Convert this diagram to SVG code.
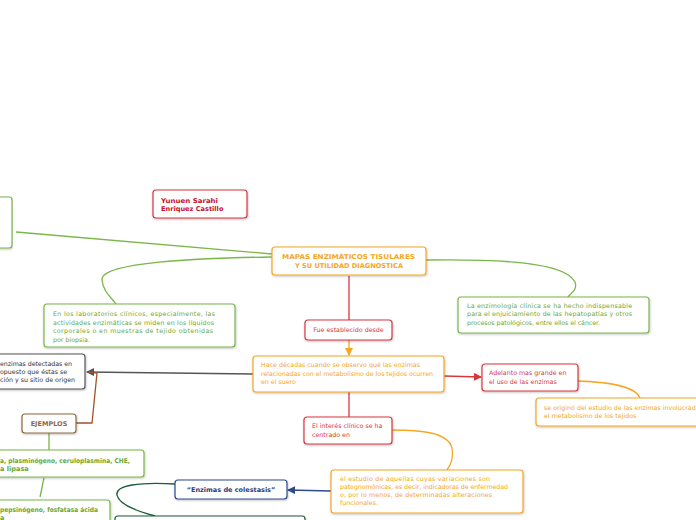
<svg xmlns="http://www.w3.org/2000/svg" width="696" height="520" viewBox="0 0 696 520">
<defs>
<filter id="sh" x="-5%" y="-10%" width="110%" height="130%"><feDropShadow dx="0.5" dy="1" stdDeviation="0.8" flood-color="#000" flood-opacity="0.25"/></filter>
<marker id="aGray" markerWidth="8" markerHeight="8" refX="7" refY="4" orient="auto" markerUnits="userSpaceOnUse"><path d="M0,0 L8,4 L0,8 Z" fill="#555"/></marker>
<marker id="aRed" markerWidth="8" markerHeight="8" refX="7" refY="4" orient="auto" markerUnits="userSpaceOnUse"><path d="M0,0 L8,4 L0,8 Z" fill="#d9363e"/></marker>
<marker id="aOr" markerWidth="8" markerHeight="8" refX="7" refY="4" orient="auto" markerUnits="userSpaceOnUse"><path d="M0,0 L8,4 L0,8 Z" fill="#f5a623"/></marker>
<marker id="aBlue" markerWidth="8" markerHeight="8" refX="7" refY="4" orient="auto" markerUnits="userSpaceOnUse"><path d="M0,0 L8,4 L0,8 Z" fill="#2c4a8c"/></marker>
</defs>
<style>
rect{fill:#fff;stroke-width:1.2;filter:url(#sh)}
.g rect{stroke:#7ab648}.o rect{stroke:#f5a623}.r rect{stroke:#d9363e}.d rect{stroke:#555}.b rect{stroke:#8b6a3e}.n rect{stroke:#2c4a8c}.dg rect{stroke:#1b5e3b}
text{font-family:"DejaVu Sans",Verdana,sans-serif;font-size:6.3px}
.g text{fill:#6aa834}.o text{fill:#f5a623}.r text{fill:#d9363e}.d text{fill:#333}
.bt{font-weight:bold;font-size:6.6px}
.r .bt{fill:#c8102e}
.b text{fill:#8b6a3e;font-weight:bold;font-size:6.5px}.n text{fill:#2c3e7a;font-weight:bold;font-size:6.5px}
#connectors path{fill:none;stroke-width:1.3}
</style>
<g id="connectors">
<path d="M16,232 L272,254" stroke="#7ab648"/>
<path d="M272,257 C200,258 100,262 102,280 C103,292 112,298 116,304" stroke="#7ab648"/>
<path d="M426,260 C500,259 565,262 575,282 C578,290 570,294 568,297" stroke="#7ab648"/>
<path d="M349,276 L349,320" stroke="#d9363e"/>
<path d="M349,340 L349,355" stroke="#f5a623" marker-end="url(#aOr)"/>
<path d="M253,374 L87,372" stroke="#555" marker-end="url(#aGray)"/>
<path d="M76,423 L92,423 L97,373 L89,372" stroke="#a0522d"/>
<path d="M444,376 L481,377" stroke="#d9363e" marker-end="url(#aRed)"/>
<path d="M578,381 C605,382 635,385 640,398" stroke="#f5a623"/>
<path d="M349,392 L349,417" stroke="#d9363e"/>
<path d="M392,430 C420,430 448,432 452,448 C454,460 450,466 447,470" stroke="#f5a623"/>
<path d="M331,491 L288,490" stroke="#2c4a8c" marker-end="url(#aBlue)"/>
<path d="M49,433 L49,450" stroke="#7ab648"/>
<path d="M44,478 L40,497" stroke="#7ab648"/>
<path d="M175,484 C140,482 115,485 117,495 C119,505 140,512 155,516" stroke="#1b5e3b"/>
</g>
<g id="n_topleft" class="g"><rect x="-6" y="197" width="18" height="51" rx="3"/></g>
<g id="n_autor" class="r"><rect x="153" y="190" width="94" height="28" rx="3"/><text class="bt" x="161" y="203" textLength="57" lengthAdjust="spacingAndGlyphs">Yunuen Sarahi</text><text class="bt" x="161" y="211">Enriquez Castillo</text></g>
<g id="n_central" class="o"><rect x="272" y="247" width="154" height="28" rx="3"/><text class="bt" x="282" y="259" textLength="133" lengthAdjust="spacingAndGlyphs">MAPAS ENZIMÁTICOS TISULARES</text><text class="bt" x="349" y="268" text-anchor="middle">Y SU UTILIDAD DIAGNOSTICA</text></g>
<g id="n_lab" class="g"><rect x="44" y="304" width="191" height="43" rx="3"/>
<text x="53" y="316" textLength="162" lengthAdjust="spacing">En  los laboratorios   clínicos,   especialmente,   las</text>
<text x="53" y="325" textLength="161" lengthAdjust="spacing">actividades enzimáticas  se  miden  en  los  líquidos</text>
<text x="53" y="333" textLength="160" lengthAdjust="spacing">corporales   o en  muestras  de  tejido  obtenidas</text>
<text x="53" y="342">por   biopsia.</text></g>
<g id="n_enzimologia" class="g"><rect x="458" y="297" width="191" height="36" rx="3"/>
<text x="467" y="308" textLength="165" lengthAdjust="spacing">La enzimología  clínica  se  ha hecho   indispensable</text>
<text x="467" y="316" textLength="165" lengthAdjust="spacing">para   el   enjuiciamiento   de   las hepatopatías y otros</text>
<text x="467" y="325" textLength="133" lengthAdjust="spacing">procesos patológicos, entre ellos el cáncer.</text></g>
<g id="n_fue" class="r"><rect x="305" y="320" width="87" height="20" rx="3"/><text x="348.5" y="332" text-anchor="middle">Fue establecido desde</text></g>
<g id="n_hace" class="o"><rect x="253" y="356" width="191" height="36" rx="3"/>
<text x="261" y="367" textLength="159" lengthAdjust="spacing">Hace décadas cuando se observo qué las enzimas</text>
<text x="261" y="376" textLength="172" lengthAdjust="spacing">relacionadas con el metabolismo de los tejidos ocurren</text>
<text x="261" y="384">en el suero</text></g>
<g id="n_detectadas" class="d"><rect x="-10" y="354" width="95" height="35" rx="3"/>
<text x="0" y="366" textLength="72" lengthAdjust="spacing">enzimas  detectadas  en</text>
<text x="0" y="374">opuesto que éstas se</text>
<text x="0" y="382">ción y su sitio de origen</text></g>
<g id="n_ejemplos" class="b"><rect x="22" y="414" width="54" height="19" rx="3"/><text x="49" y="426" text-anchor="middle">EJEMPLOS</text></g>
<g id="n_ej1" class="g"><rect x="-10" y="450" width="154" height="27" rx="3"/><text class="bt" x="0" y="463" textLength="130" lengthAdjust="spacingAndGlyphs">a, plasminógeno, ceruloplasmina, CHE,</text><text class="bt" x="0" y="471">a lipasa</text></g>
<g id="n_ej2" class="g"><rect x="-10" y="500" width="120" height="30" rx="3"/><text class="bt" x="0" y="512" textLength="98" lengthAdjust="spacingAndGlyphs">pepsinógeno, fosfatasa ácida</text><text class="bt" x="0" y="520">a</text></g>
<g id="n_adelanto" class="r"><rect x="482" y="364" width="96" height="27" rx="3"/><text x="489" y="375">Adelanto mas grande en</text><text x="489" y="384">el uso de las enzimas</text></g>
<g id="n_origino" class="o"><rect x="536" y="398" width="170" height="28" rx="3"/><text x="544" y="410">se originó del estudio de las enzimas involucradas en</text><text x="544" y="418">el metabolismo de los tejidos</text></g>
<g id="n_interes" class="r"><rect x="304" y="417" width="88" height="27" rx="3"/><text x="312" y="428">El interés clínico se ha</text><text x="312" y="437">centrado en</text></g>
<g id="n_estudio" class="o"><rect x="331" y="470" width="192" height="43" rx="3"/>
<text x="340" y="481" textLength="150" lengthAdjust="spacing">el  estudio  de  aquellas  cuyas  variaciones  son</text>
<text x="340" y="489" textLength="168" lengthAdjust="spacing">patognomónicas, es decir, indicadoras de enfermedad</text>
<text x="340" y="497" textLength="152" lengthAdjust="spacing">o, por  lo  menos,  de  determinadas  alteraciones</text>
<text x="340" y="505">funcionales.</text></g>
<g id="n_colestasis" class="n"><rect x="175" y="480" width="112" height="19" rx="3"/><text x="231" y="492" text-anchor="middle">“Enzimas  de colestasis”</text></g>
<g id="n_bottom" class="dg"><rect x="115" y="516" width="190" height="20" rx="3"/></g>
</svg>
